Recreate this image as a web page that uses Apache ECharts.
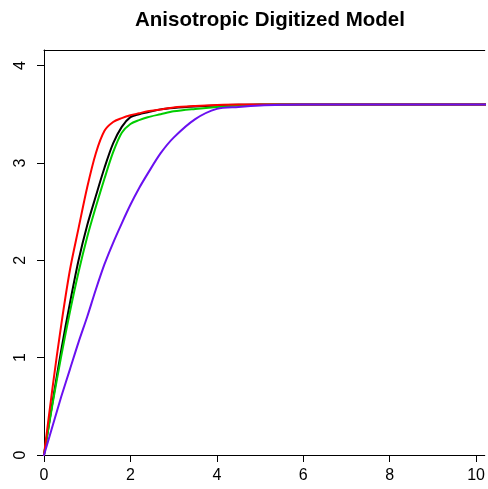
<!DOCTYPE html>
<html>
<head>
<meta charset="utf-8">
<script src="https://cdn.jsdelivr.net/npm/echarts@6/dist/echarts.min.js"></script>
<style>
html,body{margin:0;padding:0;background:#fff;}
#chart{width:488px;height:489px;}
</style>
</head>
<body>
<div id="chart"></div>
<script>
const titleText = 'Anisotropic Digitized Model';
const xVals = [0, 0.2, 0.4, 0.6, 0.8, 1.0, 1.2, 1.4, 1.6, 1.8, 2.0, 2.2, 2.4, 2.7, 3.0, 3.5, 4.0, 4.5, 5.0, 5.5, 6.0, 7, 8, 9, 10, 10.4];
const yBlack = [0, 0.55, 1.08, 1.56, 2.00, 2.36, 2.66, 2.95, 3.20, 3.37, 3.47, 3.50, 3.52, 3.55, 3.565, 3.58, 3.59, 3.597, 3.6, 3.6, 3.6, 3.6, 3.6, 3.6, 3.6, 3.6];
const yGreen = [0, 0.53, 1.02, 1.47, 1.88, 2.24, 2.55, 2.84, 3.11, 3.31, 3.40, 3.44, 3.47, 3.50, 3.53, 3.555, 3.575, 3.59, 3.597, 3.6, 3.6, 3.6, 3.6, 3.6, 3.6, 3.6];
const yRed = [0, 0.70, 1.34, 1.90, 2.33, 2.75, 3.10, 3.33, 3.42, 3.46, 3.49, 3.51, 3.53, 3.55, 3.57, 3.585, 3.595, 3.6, 3.6, 3.6, 3.6, 3.6, 3.6, 3.6, 3.6, 3.6];
const yBlue = [0, 0.30, 0.60, 0.88, 1.16, 1.42, 1.70, 1.96, 2.18, 2.38, 2.57, 2.74, 2.89, 3.10, 3.26, 3.45, 3.555, 3.575, 3.59, 3.597, 3.6, 3.6, 3.6, 3.6, 3.6, 3.6];
const xTicks = [0, 2, 4, 6, 8, 10];
const yTicks = [0, 1, 2, 3, 4];

const FONT = '"Liberation Sans", Arial, Helvetica, sans-serif';
const pairs = ys => xVals.map((x, i) => [x, ys[i]]);
function mk(name, ys, color) {
  return {
    name: name, type: 'line', data: pairs(ys), showSymbol: false, symbol: 'none',
    smooth: 0.3, xAxisIndex: 0, yAxisIndex: 0,
    lineStyle: { color: color, width: 2, join: 'round', cap: 'round' }, animation: false, silent: true
  };
}
const chart = echarts.init(document.getElementById('chart'), null, { renderer: 'canvas' });
chart.setOption({
  animation: false,
  backgroundColor: '#fff',
  graphic: [{
    type: 'text', x: 270, y: 20,
    style: { text: titleText, align: 'center', verticalAlign: 'middle',
      fontFamily: FONT, fontWeight: 'bold', fontSize: 20.5, fill: '#000' }
  }],
  grid: { left: 44, top: 50, right: -1, height: 405, show: false },
  xAxis: [{
    type: 'value', min: 0, max: 10.2, position: 'bottom',
    splitLine: { show: false },
    axisLine: { show: true, onZero: false, lineStyle: { color: '#000', width: 1 } },
    axisTick: { show: true, length: 7, customValues: xTicks, lineStyle: { color: '#000', width: 1 } },
    axisLabel: { customValues: xTicks, color: '#000', fontSize: 16, fontFamily: FONT, margin: 13 }
  }, {
    type: 'value', min: 0, max: 10.2, position: 'top',
    splitLine: { show: false },
    axisLine: { show: true, onZero: false, lineStyle: { color: '#000', width: 1 } },
    axisTick: { show: false }, axisLabel: { show: false }
  }],
  yAxis: {
    type: 'value', min: 0, max: 4.16,
    splitLine: { show: false },
    axisLine: { show: true, onZero: false, lineStyle: { color: '#000', width: 1 } },
    axisTick: { show: true, length: 7, customValues: yTicks, lineStyle: { color: '#000', width: 1 } },
    axisLabel: { customValues: yTicks, color: '#000', fontSize: 16, fontFamily: FONT, margin: 15, rotate: 90 }
  },
  series: [
    mk('black', yBlack, '#000000'),
    mk('green', yGreen, '#00cd00'),
    mk('red', yRed, '#ff0000'),
    mk('blue', yBlue, '#6a10f0')
  ]
});
</script>
</body>
</html>
